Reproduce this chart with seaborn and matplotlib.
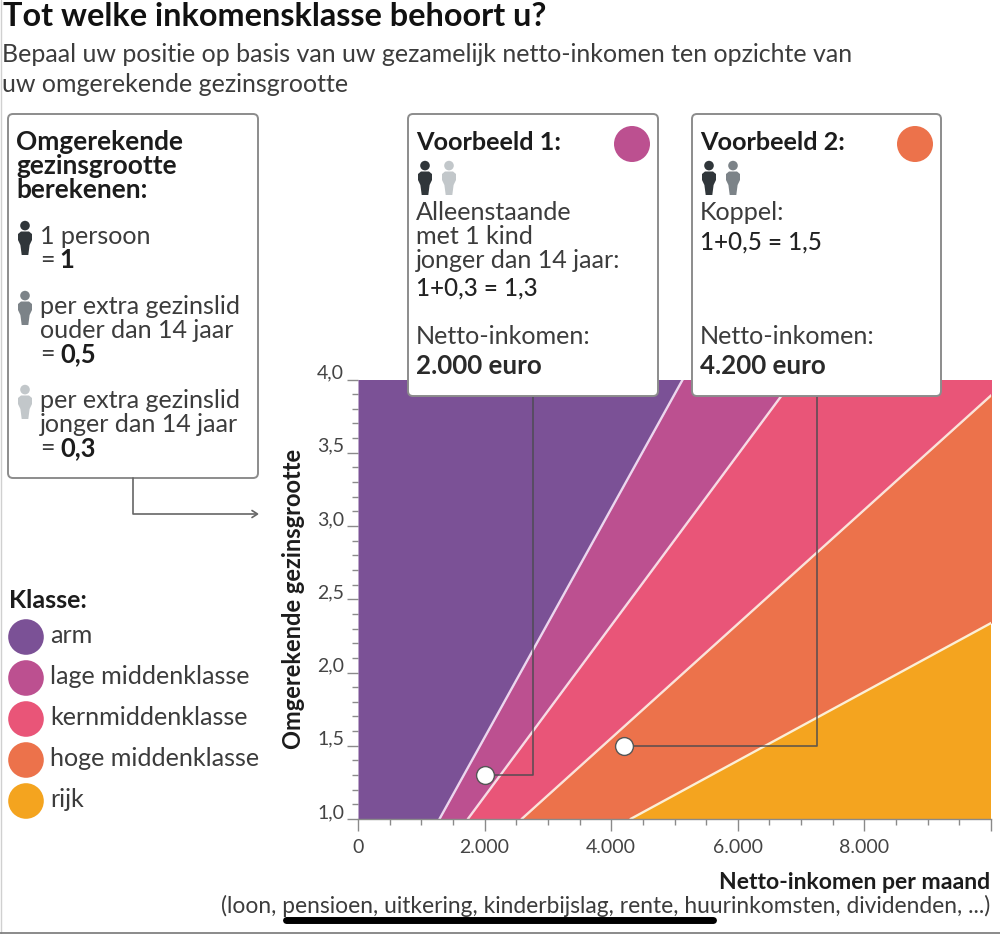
import numpy as np
import pandas as pd
import matplotlib
matplotlib.use("Agg")
import matplotlib.pyplot as plt
from matplotlib.patches import FancyBboxPatch, Circle, Polygon
from matplotlib.ticker import FixedLocator, FixedFormatter
from matplotlib.transforms import ScaledTranslation
import seaborn as sns

# ---- data ----
klassen = ["arm", "lage middenklasse", "kernmiddenklasse", "hoge middenklasse", "rijk"]
kleuren = ["#7b5196", "#bc5090", "#e95578", "#ec724b", "#f4a41f"]
gezin_y = [1.0, 4.0]
grens_arm = [1287, 5130]
grens_lage = [1735, 6880]
grens_kern = [2585, 10280]
grens_hoge = [4305, 17080]
voorbeeld_x = [2000, 4200]
voorbeeld_y = [1.3, 1.5]
leader_x = [2770, 7250]
x_ticks = [0, 2000, 4000, 6000, 8000, 10000]
x_tick_labels = ["0", "2.000", "4.000", "6.000", "8.000", ""]
x_minor = [500, 1000, 1500, 2500, 3000, 3500, 4500, 5000, 5500, 6500, 7000, 7500, 8500, 9000, 9500]
y_ticks = [1.0, 1.5, 2.0, 2.5, 3.0, 3.5, 4.0]
y_tick_labels = ["1,0", "1,5", "2,0", "2,5", "3,0", "3,5", "4,0"]
y_minor = [1.1, 1.2, 1.3, 1.4, 1.6, 1.7, 1.8, 1.9, 2.1, 2.2, 2.3, 2.4, 2.6, 2.7, 2.8, 2.9,
           3.1, 3.2, 3.3, 3.4, 3.6, 3.7, 3.8, 3.9]

sns.set_theme(style="white")
plt.rcParams["font.family"] = ["Lato", "DejaVu Sans"]
plt.rcParams["ytick.alignment"] = "bottom"

W, H = 1000, 934
fig = plt.figure(figsize=(W / 100, H / 100), dpi=100, facecolor="white")
L, R, T, B = 358.0, 991.0, 379.5, 819.0
ax = fig.add_axes([L / W, 1 - B / H, (R - L) / W, (B - T) / H])

XMAX = 10000
grenzen = [grens_arm, grens_lage, grens_kern, grens_hoge]
links = [[0, 0]] + grenzen
rechts = grenzen + [[XMAX * 3, XMAX * 3]]
for a, b, c in zip(links, rechts, kleuren):
    ax.fill_betweenx(gezin_y, a, b, color=c, lw=0, zorder=1)
for g, lc in zip(grenzen, ["#ecd6ee", "#f8dbe4", "#fbe3da", "#fcefd6"]):
    sns.lineplot(x=g, y=gezin_y, ax=ax, color=lc, lw=1.7, sort=False, estimator=None, zorder=2)

for px, py, lx in zip(voorbeeld_x, voorbeeld_y, leader_x):
    ax.plot([px, lx, lx], [py, py, gezin_y[1]], color="#4a4a4e", lw=1.2, alpha=.85, zorder=3)
sns.scatterplot(x=voorbeeld_x, y=voorbeeld_y, ax=ax, s=165, color="white",
                edgecolor="#555555", linewidth=1.0, zorder=4, clip_on=False)

ax.set_xlim(0, XMAX)
ax.set_ylim(gezin_y[0], gezin_y[1])
ax.xaxis.set_major_locator(FixedLocator(x_ticks))
ax.xaxis.set_major_formatter(FixedFormatter(x_tick_labels))
ax.xaxis.set_minor_locator(FixedLocator(x_minor))
ax.yaxis.set_major_locator(FixedLocator(y_ticks))
ax.yaxis.set_major_formatter(FixedFormatter(y_tick_labels))
ax.yaxis.set_minor_locator(FixedLocator(y_minor))
ax.tick_params(axis="x", which="major", length=8.5, width=1, color="#8a8a8a", labelsize=14,
               labelcolor="#444444", bottom=True, pad=6)
ax.tick_params(axis="x", which="minor", length=4.5, width=1, color="#8a8a8a", bottom=True)
ax.tick_params(axis="y", which="major", length=8, width=1, color="#8a8a8a", labelsize=14,
               labelcolor="#444444", left=True, pad=2)
ax.tick_params(axis="y", which="minor", length=4.5, width=1, color="#8a8a8a", left=True)
for lbl in ax.get_yticklabels():
    lbl.set_transform(lbl.get_transform() + ScaledTranslation(0, -2 / 100, fig.dpi_scale_trans))
for s in ["top", "right", "left"]:
    ax.spines[s].set_visible(False)
ax.spines["bottom"].set_color("#8a8a8a")
ax.spines["bottom"].set_linewidth(1)
ax.set_xlabel("")
ax.set_ylabel("")

# ---- overlay in pixel coordinates for text, boxes and icons ----
ov = fig.add_axes([0, 0, 1, 1], zorder=5)
ov.set_xlim(0, W)
ov.set_ylim(H, 0)
ov.axis("off")
ov.patch.set_alpha(0)

DARK = "#1c1c1c"
TXT = "#3c3c3c"
BODY = 18.1
BOLD = 18.4


def t(x, y, s, size=None, bold=False, color=None, **kw):
    kw.setdefault("va", "center")
    if size is None:
        size = BOLD if bold else BODY
    kw.setdefault("fontweight", "bold" if bold else "normal")
    ov.text(x, y + 1.5, s, fontsize=size, color=color or (DARK if bold else TXT), **kw)


def box(x0, y0, x1, y1):
    ov.add_patch(FancyBboxPatch((x0 + 4, y0 + 4), x1 - x0 - 8, y1 - y0 - 8,
                                boxstyle="round,pad=4,rounding_size=5",
                                fc="white", ec="#8c8c8c", lw=1.4, mutation_aspect=1))


def person(cx, top, color, h=34):
    s = h / 34
    ov.add_patch(Circle((cx, top + 4.6 * s), 4.8 * s, fc=color, ec="none"))
    pts = [(-4, 10.5), (4, 10.5), (7, 13), (7, 19), (4.6, 24), (3.3, 34), (-3.3, 34), (-4.6, 24), (-7, 19), (-7, 13)]
    ov.add_patch(Polygon([(cx + a * s, top + b * s) for a, b in pts], closed=True, fc=color, ec="none"))


t(3, 15, "Tot welke inkomensklasse behoort u?", size=23.3, bold=True, color="#111111")
t(2, 53, "Bepaal uw positie op basis van uw gezamelijk netto-inkomen ten opzichte van", size=17.98)
t(2, 83, "uw omgerekende gezinsgrootte", size=17.98)

box(8, 114, 258, 478)
t(16, 141, "Omgerekende", bold=True, size=18.9)
t(16, 165, "gezinsgrootte", bold=True, size=18.9)
t(16, 189, "berekenen:", bold=True, size=18.9)
person(25, 221, "#30363a")
t(40, 235, "1 persoon")
t(40, 259, "=")
t(59, 259, "1", bold=True)
person(25, 291, "#7c8388")
t(40, 305, "per extra gezinslid")
t(40, 329, "ouder dan 14 jaar")
t(40, 353, "=")
t(60, 353, "0,5", bold=True)
person(25, 385, "#c2c7ca")
t(40, 399, "per extra gezinslid")
t(40, 423, "jonger dan 14 jaar")
t(40, 447, "=")
t(60, 447, "0,3", bold=True)

ov.plot([133, 133, 256], [478, 514, 514], color="#666666", lw=1.2)
ov.plot([252, 257.5, 252], [510.5, 514, 517.5], color="#666666", lw=1.2)

box(408, 114, 658, 396)
t(416.5, 141, "Voorbeeld 1:", bold=True, size=18.2)
ov.add_patch(Circle((632, 144), 18, fc=kleuren[1], ec="none"))
person(425, 161, "#30363a")
person(449, 161, "#c2c7ca")
t(416, 211, "Alleenstaande")
t(416, 235, "met 1 kind")
t(416, 259, "jonger dan 14 jaar:")
t(416, 287, "1+0,3 = 1,3", size=17.4, color="#222222", fontweight="medium")
t(416, 335, "Netto-inkomen:")
t(416, 364, "2.000 euro", bold=True, size=18.6, color="#2a2a2a")

box(692, 114, 941, 396)
t(700.5, 141, "Voorbeeld 2:", bold=True, size=18.2)
ov.add_patch(Circle((915, 144), 18, fc=kleuren[3], ec="none"))
person(709, 161, "#30363a")
person(733, 161, "#7c8388")
t(700, 211, "Koppel:")
t(700, 241, "1+0,5 = 1,5", size=17.4, color="#222222", fontweight="medium")
t(700, 335, "Netto-inkomen:")
t(700, 364, "4.200 euro", bold=True, size=18.6, color="#2a2a2a")

t(9, 599, "Klasse:", bold=True, size=18)
for i, (naam, c) in enumerate(zip(klassen, kleuren)):
    y = 637 + 41 * i
    ov.add_patch(Circle((26, y), 17.8, fc=c, ec="none"))
    t(50, y - 3, naam)

t(293.5, 597, "Omgerekende gezinsgrootte", bold=True, size=17, rotation=90, ha="center")
t(990, 881, "Netto-inkomen per maand", bold=True, size=16.6, ha="right")
t(990, 904, "(loon, pensioen, uitkering, kinderbijslag, rente, huurinkomsten, dividenden, ...)", size=16.4, ha="right")

ov.plot([286, 713], [920, 920], color="black", lw=5, solid_capstyle="round")
ov.plot([0.5, 0.5], [0, H], color="#d0d0d0", lw=1)
ov.plot([0, W], [H - 1, H - 1], color="#777777", lw=1.2)

fig.savefig("out.png", dpi=100)
